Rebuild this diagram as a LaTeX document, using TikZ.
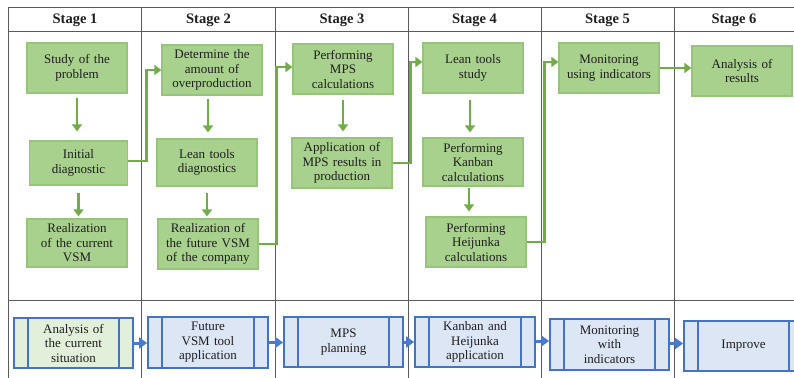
\documentclass[tikz,border=0pt]{standalone}
\usepackage{fontspec}
\setmainfont{Liberation Serif}
\usetikzlibrary{arrows.meta,calc}
\definecolor{gfill}{RGB}{169,209,142}
\definecolor{gline}{RGB}{150,196,120}
\definecolor{garrow}{RGB}{112,173,71}
\definecolor{bline}{RGB}{68,114,196}
\definecolor{bfill}{RGB}{220,230,244}
\definecolor{b1fill}{RGB}{226,239,218}
\definecolor{barrow}{RGB}{72,122,210}
\definecolor{tline}{RGB}{90,90,90}
\definecolor{txt}{RGB}{30,30,30}
\begin{document}
\begin{tikzpicture}[x=1pt,y=-1pt,
  gbox/.style={draw=gline,line width=1.2pt,fill=gfill,minimum width=100pt,minimum height=50pt,
    text width=98pt,align=center,inner sep=0pt,text=txt,font=\rmfamily\fontsize{13}{14.5}\selectfont},
  bbox/.style={draw=bline,line width=1.8pt,fill=bfill,minimum width=119pt,minimum height=50pt,
    text width=88pt,align=center,inner sep=0pt,text=txt,font=\rmfamily\fontsize{13}{14.5}\selectfont},
  garr/.style={draw=garrow,line width=2.8pt,-{Triangle[length=7pt,width=10pt]}},
  barr/.style={draw=barrow,line width=3pt,-{Triangle[length=8pt,width=11pt]}},
  tl/.style={draw=tline,line width=1pt},
  hdr/.style={font=\rmfamily\bfseries\fontsize{14.5}{16}\selectfont,text=txt}
]
\useasboundingbox (0,0) rectangle (794,377);
\clip (0,0) rectangle (794,377);
% table
\draw[tl] (8,8) -- (800,8);
\draw[tl] (8,31.5) -- (800,31.5);
\draw[tl] (8,300) -- (800,300);
\foreach \x in {8,141.5,275.5,408,541,674} \draw[tl] (\x,8) -- (\x,380);
\node[hdr] (h1) at (75,20) {Stage 1};
\node[hdr] (h2) at (208.5,20) {Stage 2};
\node[hdr] (h3) at (342,20) {Stage 3};
\node[hdr] (h4) at (474.5,20) {Stage 4};
\node[hdr] (h5) at (607.5,20) {Stage 5};
\node[hdr] (h6) at (734,20) {Stage 6};
% green boxes
\node[gbox] (study) at (77,68) {Study of the\\problem};
\node[gbox,minimum width=97pt,minimum height=44pt] (init) at (78.5,163) {Initial\\diagnostic};
\node[gbox,minimum height=48pt] (real1) at (77,243) {Realization\\of the current\\VSM};
\node[gbox] (det) at (212,70) {Determine the\\amount of\\overproduction};
\node[gbox,minimum height=47pt] (leandiag) at (207,162.5) {Lean tools\\diagnostics};
\node[gbox] (real2) at (208,244) {Realization of\\the future VSM\\of the company};
\node[gbox] (mpscalc) at (343,69) {Performing\\MPS\\calculations};
\node[gbox] (mpsapp) at (342,163) {Application of\\MPS results in\\production};
\node[gbox] (leanstudy) at (473,68) {Lean tools\\study};
\node[gbox,minimum height=48pt] (kanban) at (473,162) {Performing\\Kanban\\calculations};
\node[gbox] (heij) at (476,242) {Performing\\Heijunka\\calculations};
\node[gbox] (monit) at (609,68) {Monitoring\\using indicators};
\node[gbox] (analysis) at (742,71) {Analysis of\\results};
% green vertical arrows
\draw[garr,shorten <=4pt,shorten >=9pt] (study.south) -- (study.south |- init.north);
\draw[garr,shorten <=7pt,shorten >=2pt] (init.south) -- (init.south |- real1.north);
\draw[garr,shorten <=3pt,shorten >=6pt] ([xshift=-4pt]det.south) -- ([xshift=-4pt]det.south |- leandiag.north);
\draw[garr,shorten <=6pt,shorten >=2pt] (leandiag.south) -- (leandiag.south |- real2.north);
\draw[garr,shorten <=5pt,shorten >=6pt] (mpscalc.south) -- (mpscalc.south |- mpsapp.north);
\draw[garr,shorten <=6pt,shorten >=5pt] ([xshift=-3pt]leanstudy.south) -- ([xshift=-3pt]leanstudy.south |- kanban.north);
\draw[garr,shorten <=1pt,shorten >=5pt] ([xshift=-4pt]kanban.south) -- ([xshift=-4pt]kanban.south |- heij.north);
% green elbow connectors
\draw[garr] ([yshift=2pt]init.east) -- ++(18,0) |- (det.west);
\draw[garr] (real2.east) -- ++(18,0) |- ([yshift=2pt]mpscalc.west);
\draw[garr] (mpsapp.east) -- ++(18,0) |- ([yshift=6pt]leanstudy.west);
\draw[garr] (heij.east) -- ++(18,0) |- ([yshift=6pt]monit.west);
\draw[garr] (monit.east) -- (monit.east -| analysis.west);
% blue boxes
\node[bbox,fill=b1fill] (b1) at (73.5,343) {Analysis of\\the current\\situation};
\node[bbox,minimum width=120pt,minimum height=51pt] (b2) at (208,342.5) {Future\\VSM tool\\application};
\node[bbox] (b3) at (343.5,342) {MPS\\planning};
\node[bbox,minimum width=120pt] (b4) at (475,342) {Kanban and\\Heijunka\\application};
\node[bbox,minimum height=51pt] (b5) at (609.5,344.5) {Monitoring\\with\\indicators};
\node[bbox] (b6) at (743.5,346) {Improve};
\foreach \b in {b1,b2,b3,b4,b5,b6}{
  \draw[draw=bline,line width=1.8pt] ([xshift=15pt]\b.north west) -- ([xshift=15pt]\b.south west);
  \draw[draw=bline,line width=1.8pt] ([xshift=-15pt]\b.north east) -- ([xshift=-15pt]\b.south east);
}
\draw[barr] (b1.east) -- (b1.east -| b2.west);
\draw[barr] (b2.east) -- (b2.east -| b3.west);
\draw[barr] (b3.east) -- (b3.east -| b4.west);
\draw[barr] ([yshift=1pt]b4.east) -- ([yshift=1pt]b4.east -| b5.west);
\draw[barr] ([yshift=1pt]b5.east) -- ([yshift=1pt]b5.east -| b6.west);
\end{tikzpicture}
\end{document}
